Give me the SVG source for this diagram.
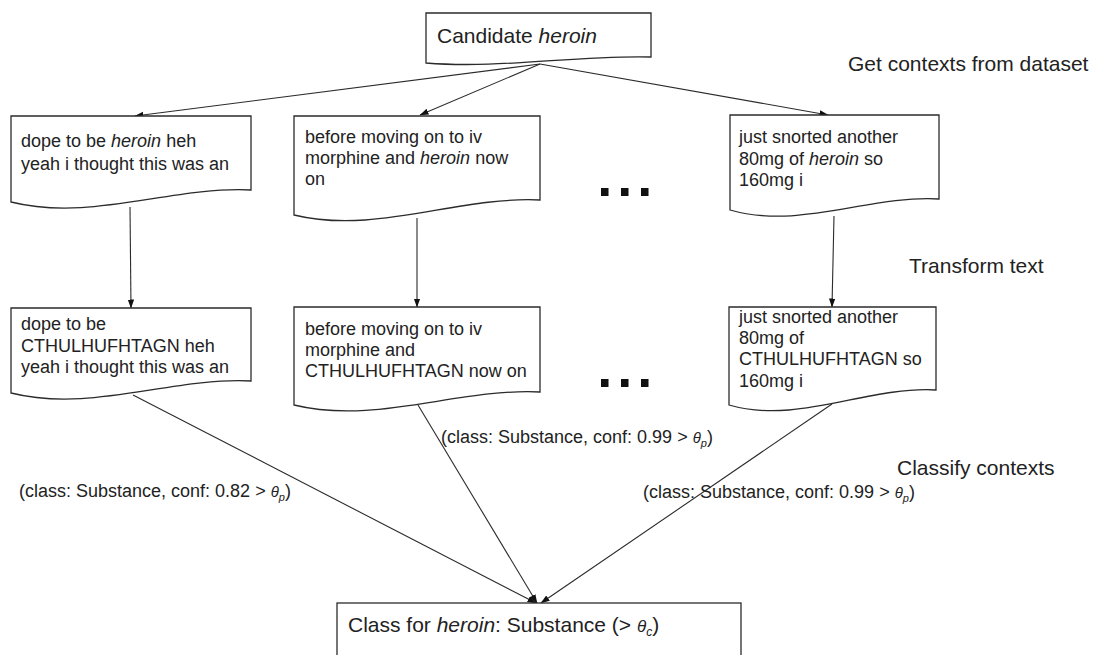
<svg xmlns="http://www.w3.org/2000/svg" width="1094" height="655" viewBox="0 0 1094 655">
<defs>
<style>
.box{fill:#fff;stroke:#2b2b2b;stroke-width:1.3}
.t{font-family:"Liberation Sans",Arial,sans-serif;font-size:18px;fill:#222}
.tl{font-family:"Liberation Sans",Arial,sans-serif;font-size:21px;fill:#222}
.i{font-style:italic}
.edge{fill:none;stroke:#2b2b2b;stroke-width:1.1;marker-end:url(#arr)}
</style>
<marker id="arr" markerUnits="userSpaceOnUse" markerWidth="9" markerHeight="8" viewBox="0 0 9 8" refX="8.5" refY="4" orient="auto">
<path d="M0,0.8 L9,4 L0,7.2 Z" fill="#111"/>
</marker>
</defs>
<rect width="1094" height="655" fill="#fff"/>

<g id="connectors">
<line class="edge" x1="540" y1="64" x2="135" y2="116"/>
<line class="edge" x1="540" y1="64" x2="420" y2="115"/>
<line class="edge" x1="540" y1="64" x2="828" y2="115"/>
<line class="edge" x1="130" y1="207" x2="131" y2="308"/>
<line class="edge" x1="417" y1="218" x2="417" y2="307"/>
<line class="edge" x1="834" y1="216" x2="832" y2="307"/>
<line class="edge" x1="133" y1="395" x2="536" y2="603"/>
<line class="edge" x1="418" y1="405" x2="537" y2="603"/>
<line class="edge" x1="832" y1="404" x2="541" y2="603"/>
</g>

<g id="candidate">
<path class="box" d="M426,13 H651 V57 C576,55 501,69 426,63 Z"/>
<text class="tl" x="437" y="43">Candidate <tspan class="i">heroin</tspan></text>
</g>

<g id="ctx1">
<path class="box" d="M11,116 H251 V190 C171,186 91,222 11,202 Z"/>
<text class="t" x="21" y="147">dope to be <tspan class="i">heroin</tspan> heh</text>
<text class="t" x="21" y="170">yeah i thought this was an</text>
</g>

<g id="ctx2">
<path class="box" d="M294,116 H540 V200 C458,196 376,235 294,215 Z"/>
<text class="t" x="305" y="143">before moving on to iv</text>
<text class="t" x="305" y="164">morphine and <tspan class="i">heroin</tspan> now</text>
<text class="t" x="305" y="185">on</text>
</g>

<g id="ctx3">
<path class="box" d="M730,115 H939 V199 C869,195 800,230 730,210 Z"/>
<text class="t" x="739" y="143">just snorted another</text>
<text class="t" x="739" y="165">80mg of <tspan class="i">heroin</tspan> so</text>
<text class="t" x="739" y="186">160mg i</text>
</g>

<g id="dots1">
<rect x="601" y="188" width="7.5" height="8" fill="#111"/>
<rect x="621" y="188" width="7.5" height="8" fill="#111"/>
<rect x="641" y="188" width="7.5" height="8" fill="#111"/>
</g>

<g id="tr1">
<path class="box" d="M11,308 H251 V381 C171,377 91,413 11,393 Z"/>
<text class="t" x="21" y="330">dope to be</text>
<text class="t" x="21" y="352">CTHULHUFHTAGN heh</text>
<text class="t" x="21" y="373">yeah i thought this was an</text>
</g>

<g id="tr2">
<path class="box" d="M294,307 H540 V392 C458,388 376,425 294,405 Z"/>
<text class="t" x="305" y="335">before moving on to iv</text>
<text class="t" x="305" y="356">morphine and</text>
<text class="t" x="305" y="377">CTHULHUFHTAGN now on</text>
</g>

<g id="tr3">
<path class="box" d="M729,307 H936 V390 C867,386 798,425 729,405 Z"/>
<text class="t" x="739" y="323">just snorted another</text>
<text class="t" x="739" y="344">80mg of</text>
<text class="t" x="739" y="365">CTHULHUFHTAGN so</text>
<text class="t" x="739" y="387">160mg i</text>
</g>

<g id="dots2">
<rect x="601" y="379" width="7.5" height="8" fill="#111"/>
<rect x="621" y="379" width="7.5" height="8" fill="#111"/>
<rect x="641" y="379" width="7.5" height="8" fill="#111"/>
</g>

<g id="result">
<rect class="box" x="337" y="603" width="404" height="70"/>
<text class="tl" x="348" y="632">Class for <tspan class="i">heroin</tspan>: Substance (&gt; <tspan class="i" font-size="17">θ</tspan><tspan class="i" font-size="12" dy="4">c</tspan><tspan dy="-4">)</tspan></text>
</g>

<g id="labels">
<text class="t" x="19" y="497">(class: Substance, conf: 0.82 &gt; <tspan class="i" font-size="15">θ</tspan><tspan class="i" font-size="11" dy="4">p</tspan><tspan dy="-4">)</tspan></text>
<text class="t" x="441" y="443">(class: Substance, conf: 0.99 &gt; <tspan class="i" font-size="15">θ</tspan><tspan class="i" font-size="11" dy="4">p</tspan><tspan dy="-4">)</tspan></text>
<text class="t" x="643" y="498">(class: Substance, conf: 0.99 &gt; <tspan class="i" font-size="15">θ</tspan><tspan class="i" font-size="11" dy="4">p</tspan><tspan dy="-4">)</tspan></text>
<text class="tl" x="848" y="71">Get contexts from dataset</text>
<text class="tl" x="909" y="273">Transform text</text>
<text class="tl" x="897" y="475">Classify contexts</text>
</g>
</svg>
